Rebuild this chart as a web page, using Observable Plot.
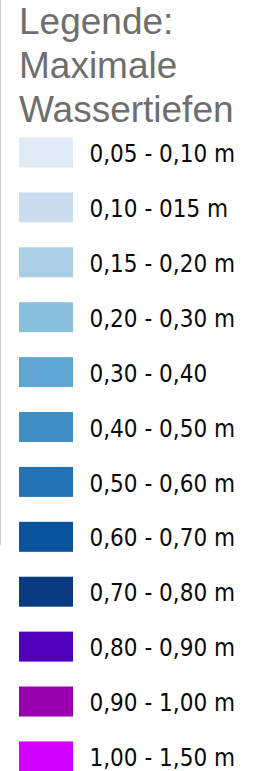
<!DOCTYPE html>
<html>
<head>
<meta charset="utf-8">
<script src="https://cdn.jsdelivr.net/npm/d3@7"></script>
<script src="https://cdn.jsdelivr.net/npm/@observablehq/plot@0.6"></script>
<style>
  html, body { margin: 0; padding: 0; background: #fff; }
  #wrap { position: relative; width: 264px; height: 771px; overflow: hidden; }
  #edge { position: absolute; left: 0; top: 0; width: 1px; height: 545px; background: #d6d2cc; }
  #title {
    font-family: "Liberation Sans", Arial, sans-serif;
    font-size: 37px; line-height: 44px; color: #6e6e6e;
    padding-left: 19px; height: 132px; margin: 0; white-space: nowrap;
  }
  #chart svg { display: block; }
</style>
</head>
<body>
<div id="wrap">
  <div id="edge"></div>
  <div id="title">Legende:<br>Maximale<br>Wassertiefen</div>
  <div id="chart"></div>
</div>
<script>
const labels = [
  "0,05 - 0,10 m", "0,10 - 015 m", "0,15 - 0,20 m", "0,20 - 0,30 m",
  "0,30 - 0,40", "0,40 - 0,50 m", "0,50 - 0,60 m", "0,60 - 0,70 m",
  "0,70 - 0,80 m", "0,80 - 0,90 m", "0,90 - 1,00 m", "1,00 - 1,50 m"
];
const colors = [
  "#e1ebf6", "#cbdef0", "#abcfe5", "#88bfdd",
  "#5fa6d2", "#408ec6", "#2372b5", "#09529c",
  "#0a3a80", "#5000b8", "#9800b0", "#d200ff"
];
const data = labels.map((label, i) => ({label, color: colors[i]}));

const plot = Plot.plot({
  width: 264,
  height: 639,
  marginLeft: 89,
  marginRight: 0,
  marginTop: 0,
  marginBottom: 0,
  x: {type: "band", domain: ["swatch"], range: [19, 73], padding: 0, round: false, axis: null},
  y: {type: "band", domain: labels, range: [5.5, 639.4], paddingInner: 0.454, paddingOuter: 0, round: false, axis: null},
  marks: [
    Plot.cell(data, {x: () => "swatch", y: "label", fill: "color", inset: 0}),
    Plot.text(data, {
      y: "label", text: "label", frameAnchor: "left", textAnchor: "start",
      dy: 1.5, fontSize: 24, fill: "#0a0a0a",
      fontFamily: "'DejaVu Sans Condensed', 'DejaVu Sans', sans-serif"
    })
  ]
});
document.getElementById("chart").appendChild(plot);
</script>
</body>
</html>
